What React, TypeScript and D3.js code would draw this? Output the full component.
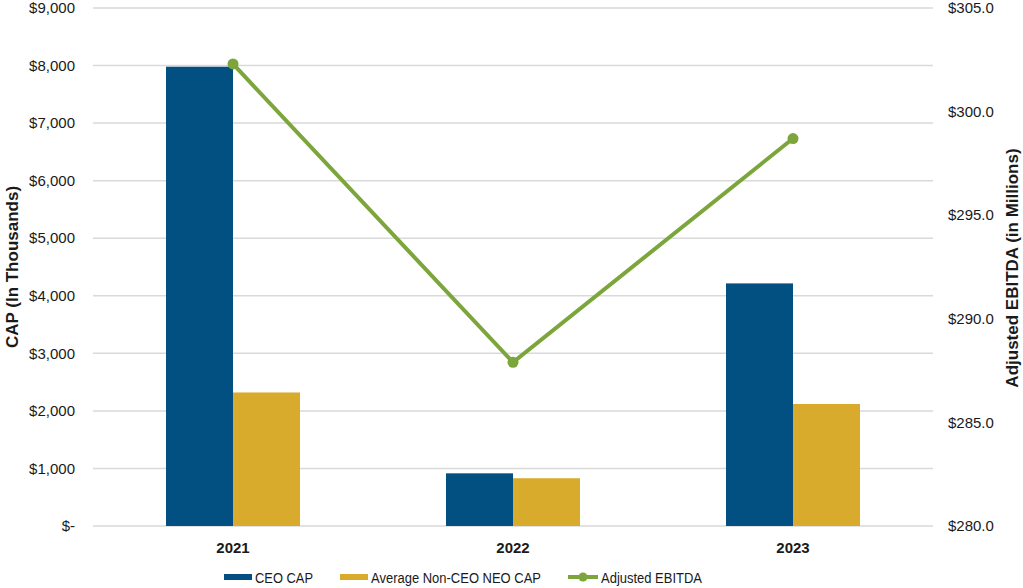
import React from 'react'
import * as d3 from 'd3'

const years = ['2021', '2022', '2023']
const ceoCap = [7980, 915, 4215]
const neoCap = [2320, 830, 2120]
const ebitda = [302.3, 287.9, 298.7]

const leftTicks = [0, 1000, 2000, 3000, 4000, 5000, 6000, 7000, 8000, 9000]
const rightTicks = [280, 285, 290, 295, 300, 305]

const W = 1023
const H = 588
const m = { left: 93, right: 933, top: 8, bottom: 526 }

const navy = '#024f81'
const gold = '#d9ab2c'
const green = '#7ca53b'

const App: React.FC = () => {
    const x = d3.scaleBand<string>()
        .domain(years)
        .range([m.left, m.right])
        .paddingInner(0.5214)
        .paddingOuter(0.2607)

    const series = d3.scaleBand<string>()
        .domain(['ceo', 'neo'])
        .range([0, x.bandwidth()])

    const yL = d3.scaleLinear().domain([0, 9000]).range([m.bottom, m.top])
    const yR = d3.scaleLinear().domain([280, 305]).range([m.bottom, m.top])

    const fmtL = (v: number) => v === 0 ? '$-' : '$' + d3.format(',')(v)
    const fmtR = d3.format('$.1f')

    const cx = (yr: string) => (x(yr) ?? 0) + x.bandwidth() / 2

    const line = d3.line<number>()
        .x((_, i) => cx(years[i]))
        .y(d => yR(d))

    const font = '"Liberation Sans", Arial, sans-serif'

    return (
        <svg width={W} height={H} style={{ position: 'absolute', left: 0, top: 0, fontFamily: font }}>
            <rect width={W} height={H} fill="#fff" />
            {/* grid */}
            {leftTicks.map(t => (
                <line key={t} x1={m.left} x2={m.right} y1={yL(t)} y2={yL(t)} stroke="#d9d9d9" strokeWidth={1.5} />
            ))}
            {/* left ticks */}
            {leftTicks.map(t => (
                <text key={t} x={75} y={yL(t)} dy="0.35em" textAnchor="end" fontSize={15} fill="#1a1a1a">{fmtL(t)}</text>
            ))}
            {/* right ticks */}
            {rightTicks.map(t => (
                <text key={t} x={948} y={yR(t)} dy="0.35em" textAnchor="start" fontSize={15} fill="#1a1a1a">{fmtR(t)}</text>
            ))}
            {/* bars */}
            {years.map((yr, i) => (
                <g key={yr} transform={`translate(${x(yr)},0)`}>
                    <rect x={series('ceo')} y={yL(ceoCap[i])} width={series.bandwidth()} height={m.bottom - yL(ceoCap[i])} fill={navy} />
                    <rect x={series('neo')} y={yL(neoCap[i])} width={series.bandwidth()} height={m.bottom - yL(neoCap[i])} fill={gold} />
                </g>
            ))}
            {/* x labels */}
            {years.map(yr => (
                <text key={yr} x={cx(yr)} y={553} textAnchor="middle" fontSize={15} fontWeight="bold" fill="#1a1a1a">{yr}</text>
            ))}
            {/* ebitda line */}
            <path d={line(ebitda) ?? ''} fill="none" stroke={green} strokeWidth={4} />
            {ebitda.map((v, i) => (
                <circle key={i} cx={cx(years[i])} cy={yR(v)} r={5.5} fill={green} />
            ))}
            {/* axis titles */}
            <text transform={`translate(18,267) rotate(-90)`} textAnchor="middle" fontSize={17} fontWeight="bold" fill="#1a1a1a">CAP (In Thousands)</text>
            <text transform={`translate(1018,268) rotate(-90)`} textAnchor="middle" fontSize={17} fontWeight="bold" fill="#1a1a1a">Adjusted EBITDA (in Millions)</text>
            {/* legend */}
            <g fontSize={15.5} fill="#1a1a1a">
                <rect x={224} y={574} width={28} height={6} fill={navy} />
                <text x={255} y={583} textLength={58} lengthAdjust="spacingAndGlyphs">CEO CAP</text>
                <rect x={340} y={574} width={28} height={6} fill={gold} />
                <text x={371} y={583} textLength={170} lengthAdjust="spacingAndGlyphs">Average Non-CEO NEO CAP</text>
                <line x1={568} x2={598} y1={577} y2={577} stroke={green} strokeWidth={4} />
                <circle cx={583} cy={577} r={4.5} fill={green} />
                <text x={601} y={583} textLength={101} lengthAdjust="spacingAndGlyphs">Adjusted EBITDA</text>
            </g>
        </svg>
    )
}

export default App
